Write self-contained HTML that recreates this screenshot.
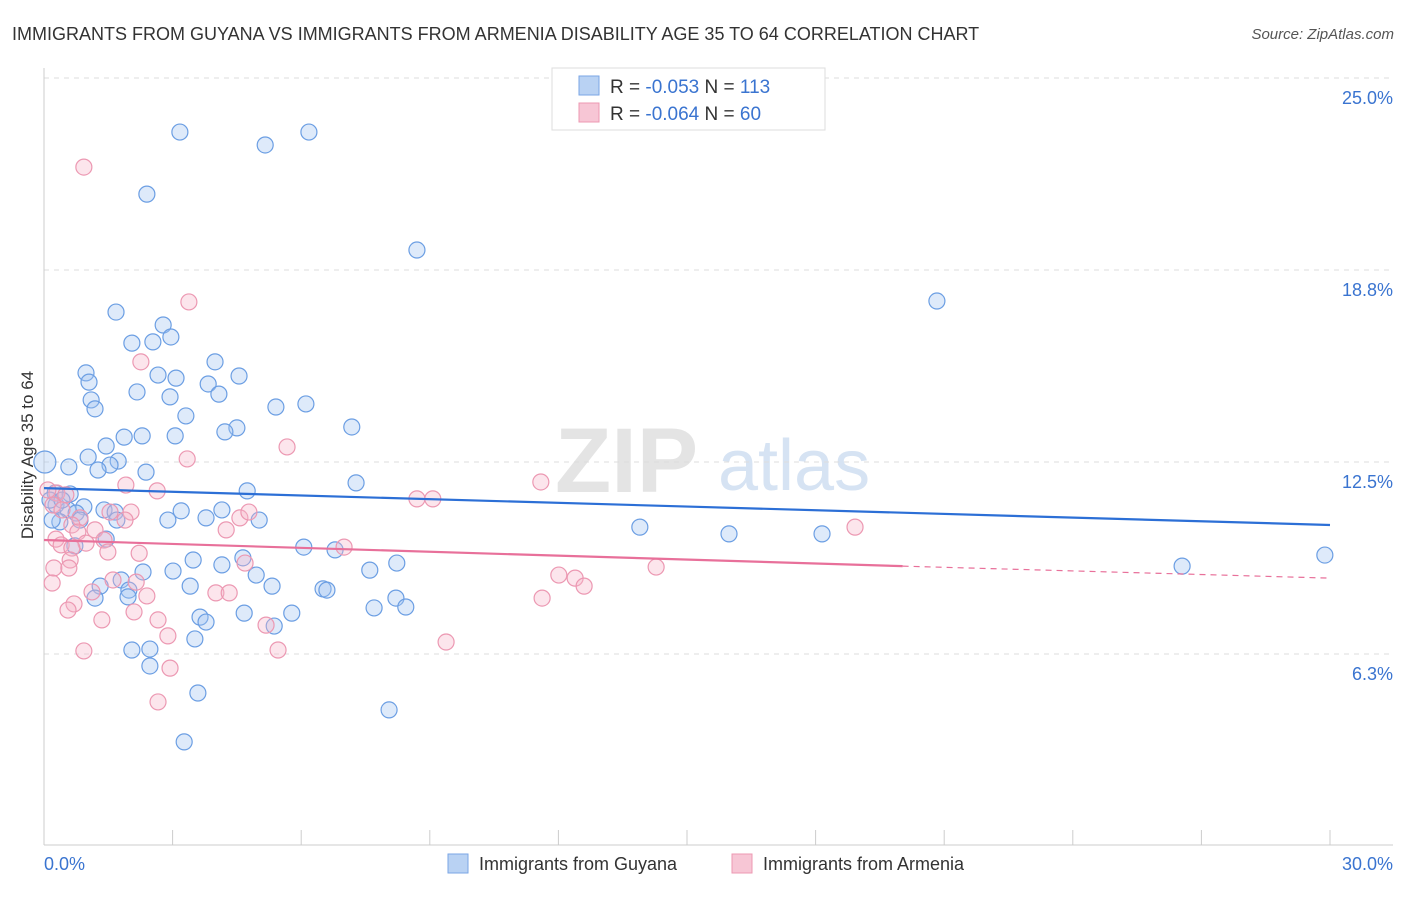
<!DOCTYPE html>
<html><head><meta charset="utf-8"><style>
body{margin:0;background:#fff;font-family:"Liberation Sans",sans-serif;}
svg text{font-family:"Liberation Sans",sans-serif;}
</style></head><body>
<svg id="chart" width="1406" height="892" xmlns="http://www.w3.org/2000/svg">
<text x="12" y="40" font-size="18" fill="#333">IMMIGRANTS FROM GUYANA VS IMMIGRANTS FROM ARMENIA DISABILITY AGE 35 TO 64 CORRELATION CHART</text>
<text x="1394" y="39" font-size="15" fill="#555" font-style="italic" text-anchor="end">Source: ZipAtlas.com</text>
<g>
<text x="555" y="492" font-size="92" fill="#e4e4e4" font-family="Liberation Serif" font-weight="bold">ZIP</text>
<text x="718" y="490" font-size="72" fill="#d6e3f3">atlas</text>
</g>
<g id="grid"></g>
<g id="axes"></g>
<g id="pts"></g>
<g id="trends"></g>
<text transform="translate(33,455) rotate(-90)" font-size="17" fill="#333" text-anchor="middle">Disability Age 35 to 64</text>
<g>
<rect x="552" y="68" width="273" height="62" fill="#fff" stroke="#ddd"/>
<rect x="579" y="76" width="20" height="19" fill="#b9d2f3" stroke="#7aa6e6"/>
<rect x="579" y="103" width="20" height="19" fill="#f7c6d5" stroke="#ec98b2"/>
<text x="610" y="93" font-size="19" fill="#333">R = <tspan fill="#3a74d0">-0.053</tspan>   N = <tspan fill="#3a74d0">113</tspan></text>
<text x="610" y="120" font-size="19" fill="#333">R = <tspan fill="#3a74d0">-0.064</tspan>   N = <tspan fill="#3a74d0"> 60</tspan></text>
</g>
<g>
<rect x="448" y="854" width="20" height="19" fill="#b9d2f3" stroke="#7aa6e6"/>
<text x="479" y="870" font-size="18" fill="#333">Immigrants from Guyana</text>
<rect x="732" y="854" width="20" height="19" fill="#f7c6d5" stroke="#ec98b2"/>
<text x="763" y="870" font-size="18" fill="#333">Immigrants from Armenia</text>
</g>
</svg>
<script>
const yTicks=[25,18.75,12.5,6.25];
const yTickLabels=["25.0%","18.8%","12.5%","6.3%"];
const xTickLabels=["0.0%","30.0%"];
const blueX=[3.17,5.16,6.18,2.40,8.70,20.83,1.68,2.78,2.96,2.05,2.54,3.99,0.98,1.05,2.66,3.08,3.83,4.55,2.17,4.08,2.94,1.10,1.19,3.31,5.41,6.11,7.18,4.50,4.22,1.87,2.29,3.06,1.45,1.03,1.73,1.54,0.58,1.26,2.38,7.28,4.74,0.26,0.61,0.28,0.93,0.56,1.40,1.66,0.75,0.37,1.70,3.20,4.15,3.78,2.89,5.02,13.90,15.98,18.15,29.88,26.55,0.72,1.45,6.06,6.79,4.64,3.48,4.15,8.23,7.60,2.31,3.01,4.95,1.80,1.31,1.98,3.41,5.32,6.51,6.60,1.19,1.96,8.21,8.44,7.70,4.67,5.78,3.64,3.78,5.37,3.52,2.05,2.47,2.47,3.59,8.05,3.27,0.02,0.14,0.19,0.42,0.84];
const blueY=[23.24,22.82,23.24,21.22,19.40,17.74,17.38,16.96,16.57,16.37,16.41,15.76,15.40,15.10,15.33,15.23,15.04,15.30,14.78,14.71,14.62,14.52,14.23,14.00,14.29,14.39,13.64,13.61,13.48,13.31,13.35,13.35,13.02,12.66,12.53,12.40,12.34,12.24,12.17,11.82,11.56,11.49,11.46,11.10,11.04,10.94,10.94,10.87,10.84,10.55,10.61,10.91,10.94,10.68,10.61,10.61,10.38,10.16,10.16,9.47,9.11,9.77,9.99,9.73,9.64,9.38,9.31,9.15,9.21,8.98,8.92,8.95,8.82,8.66,8.46,8.33,8.46,8.46,8.37,8.33,8.07,8.11,8.07,7.78,7.75,7.58,7.58,7.45,7.29,7.16,6.74,6.38,6.41,5.86,4.98,4.43,3.39,12.5,11.26,10.61,11.26,10.61];
const pinkX=[0.93,3.38,2.26,3.34,5.67,11.59,1.91,2.64,8.70,9.07,18.92,0.30,0.51,0.21,0.42,0.84,0.65,1.54,2.03,1.89,0.79,1.19,0.28,0.98,1.40,0.40,0.65,4.25,4.57,4.78,7.00,2.22,0.61,1.49,0.23,0.58,14.28,12.01,12.39,12.60,1.61,2.15,1.12,4.01,4.32,2.40,11.62,0.70,0.56,1.35,2.10,2.66,5.18,2.89,9.38,5.46,0.93,2.94,2.66,0.19,4.69,0.09];
const pinkY=[22.10,17.71,15.76,12.60,12.99,11.85,11.75,11.56,11.30,11.30,10.38,11.49,11.43,11.10,10.94,10.68,10.45,10.87,10.87,10.61,10.22,10.29,9.99,9.86,9.96,9.80,9.70,10.29,10.68,10.87,9.73,9.53,9.31,9.57,9.05,9.05,9.08,8.82,8.72,8.46,8.66,8.59,8.27,8.24,8.24,8.14,8.07,7.88,7.68,7.36,7.62,7.36,7.19,6.84,6.64,6.38,6.35,5.79,4.69,8.56,9.21,11.59];
const blueTrend=[11.65,10.45];
const pinkTrend=[9.96,9.11,8.72];
const pinkSolidEnd=20.03;
const NS="http://www.w3.org/2000/svg";
const X=v=>44+v*(1286/30);
const Y=v=>846-v*30.72;
function mk(tag,attrs,parent){const e=document.createElementNS(NS,tag);for(const k in attrs)e.setAttribute(k,attrs[k]);parent.appendChild(e);return e;}
const grid=document.getElementById('grid'),axes=document.getElementById('axes');
yTicks.forEach((t,i)=>{
 const l=mk('line',{x1:44,x2:1393,y1:Y(t),y2:Y(t),stroke:'#ddd','stroke-dasharray':'5,5'},grid);
 
 
 const tx=mk('text',{x:1393,y:Y(t)+26,'font-size':18,fill:'#3a74d0','text-anchor':'end'},axes);
 tx.textContent=yTickLabels[i];
 
 
});
mk('line',{x1:44,x2:44,y1:68,y2:845,stroke:'#ccc'},axes);
mk('line',{x1:44,x2:1393,y1:845,y2:845,stroke:'#ccc'},axes);
for(let i=0;i<=10;i++){const t=mk('line',{x1:X(i*3),x2:X(i*3),y1:830,y2:845,stroke:'#ccc'},axes);
 
 }
const xl0=mk('text',{x:44,y:870,'font-size':18,fill:'#3a74d0'},axes);xl0.textContent=xTickLabels[0];


const xl1=mk('text',{x:1393,y:870,'font-size':18,fill:'#3a74d0','text-anchor':'end'},axes);xl1.textContent=xTickLabels[1];


const pts=document.getElementById('pts');
blueX.forEach((x,i)=>{const c=mk('circle',{cx:X(x),cy:Y(blueY[i]),r:i==97?11:8,fill:'rgba(160,196,240,0.35)',stroke:'#6b9ee3','stroke-width':1.2},pts);
 
 });
pinkX.forEach((x,i)=>{const c=mk('circle',{cx:X(x),cy:Y(pinkY[i]),r:8,fill:'rgba(245,180,200,0.35)',stroke:'#ec98b2','stroke-width':1.2},pts);
 
 });
const tr=document.getElementById('trends');
const b=mk('line',{x1:X(0),y1:Y(blueTrend[0]),x2:X(30),y2:Y(blueTrend[1]),stroke:'#2c6fd6','stroke-width':2.2},tr);


const p=mk('line',{x1:X(0),y1:Y(pinkTrend[0]),x2:X(pinkSolidEnd),y2:Y(pinkTrend[1]),stroke:'#e8709a','stroke-width':2.2},tr);


const pd=mk('line',{x1:X(pinkSolidEnd),y1:Y(pinkTrend[1]),x2:X(30),y2:Y(pinkTrend[2]),stroke:'#e8709a','stroke-width':1.2,'stroke-dasharray':'6,5'},tr);


</script>
</body></html>
